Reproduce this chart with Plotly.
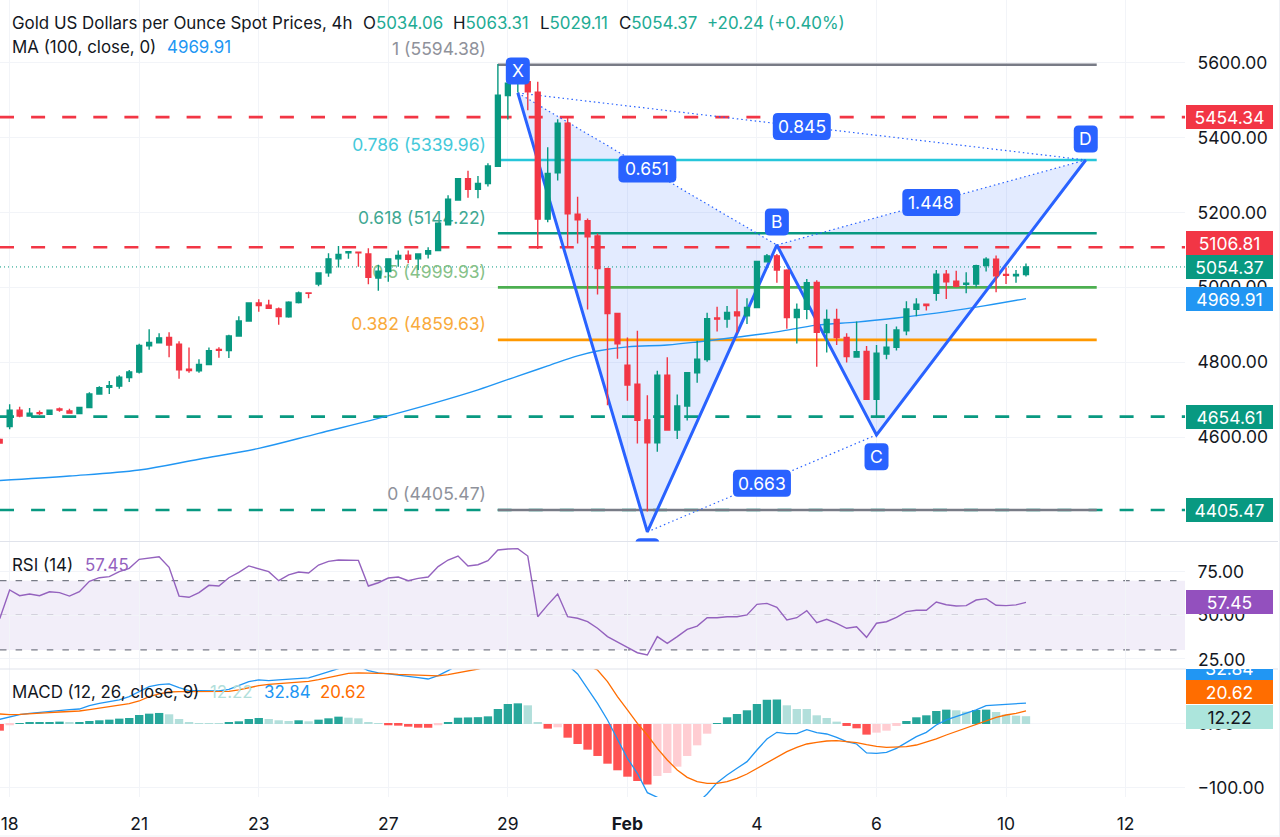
import plotly.graph_objects as go

# bar index, -1 is the cut off candle on the left edge
bar_idx = list(range(-1, 103))

open_px = [4594, 4628, 4672, 4656, 4665, 4661, 4675, 4670, 4663, 4679, 4715, 4733, 4736, 4759, 4774, 4844, 4852, 4866,
           4848, 4781, 4777, 4794, 4834, 4831, 4870, 4910, 4958, 4952, 4942, 4921, 4959, 4985, 5009, 5039, 5076, 5092,
           5094, 5089, 5025, 5042, 5076, 5086, 5076, 5089, 5098, 5167, 5233, 5290, 5262, 5277, 5323, 5512, 5545, 5549,
           5521, 5182, 5306, 5438, 5195, 5178, 5137, 5050, 4930, 4792, 4741, 4646, 4585, 4765, 4619, 4683, 4772, 4807,
           4918, 4915, 4934, 4924, 4946, 5068, 5084, 5046, 4919, 4941, 5013, 4879, 4914, 4866, 4814, 4829, 4701, 4822,
           4840, 4884, 4941, 4955, 4984, 5035, 5016, 5008, 5009, 5058, 5075, 5034, 5031, 5034.06]
high_px = [4596, 4688, 4681, 4678, 4671, 4674, 4679, 4676, 4680, 4720, 4736, 4750, 4765, 4779, 4849, 4888, 4877, 4880,
           4856, 4839, 4808, 4839, 4840, 4873, 4923, 4959, 4968, 4967, 4946, 4963, 4989, 4986, 5039, 5091, 5110, 5097,
           5095, 5104, 5060, 5077, 5098, 5098, 5089, 5107, 5173, 5246, 5292, 5311, 5297, 5331, 5596, 5552, 5575, 5553,
           5549, 5374, 5449, 5456, 5242, 5184, 5144, 5052, 4932, 4866, 4884, 4712, 4777, 4813, 4714, 4774, 4857, 4932,
           4948, 4950, 4995, 4971, 5071, 5089, 5089, 5048, 4957, 5022, 5019, 4941, 4943, 4877, 4909, 4843, 4846, 4902,
           4895, 4963, 4971, 4956, 5046, 5046, 5044, 5040, 5060, 5080, 5085, 5053, 5046, 5063.31]
low_px = [4582, 4621, 4653, 4656, 4659, 4659, 4668, 4663, 4661, 4678, 4713, 4715, 4729, 4747, 4770, 4833, 4850, 4813,
          4756, 4772, 4772, 4793, 4812, 4811, 4868, 4908, 4935, 4942, 4900, 4919, 4957, 4971, 5003, 5028, 5053, 5076,
          5055, 5008, 4991, 5015, 5055, 5064, 5046, 5077, 5096, 5165, 5231, 5239, 5238, 5269, 5322, 5448, 5520, 5473,
          5102, 5174, 5285, 5108, 5117, 4941, 4981, 4685, 4809, 4697, 4583, 4401, 4561, 4617, 4595, 4644, 4745, 4801,
          4882, 4892, 4879, 4902, 4944, 5066, 5012, 4889, 4850, 4915, 4788, 4826, 4846, 4799, 4812, 4701, 4655, 4808,
          4831, 4872, 4923, 4938, 4964, 4969, 5000, 4984, 5000, 5042, 4987, 5009, 5012, 5029.11]
close_px = [4584, 4672, 4656, 4664, 4663, 4672, 4672, 4664, 4679, 4715, 4732, 4737, 4760, 4774, 4845, 4853, 4865, 4846,
            4780, 4778, 4794, 4831, 4832, 4870, 4910, 4958, 4951, 4944, 4922, 4960, 4985, 4984, 5038, 5076, 5088, 5095,
            5092, 5027, 5043, 5076, 5085, 5075, 5089, 5098, 5171, 5235, 5290, 5262, 5277, 5324, 5513, 5545, 5552, 5522,
            5182, 5304, 5438, 5196, 5180, 5135, 5050, 4930, 4849, 4739, 4645, 4585, 4765, 4619, 4683, 4772, 4808, 4916,
            4915, 4933, 4924, 4946, 5069, 5084, 5046, 4919, 4941, 5012, 4880, 4914, 4866, 4815, 4828, 4701, 4824, 4840,
            4886, 4942, 4955, 4951, 5035, 5015, 5003, 5011, 5058, 5075, 5031, 5032, 5034, 5054.37]

# MA 100, read at every few bars
ma_idx = [-1, 6, 13, 19, 25, 31, 37, 42.5, 47, 51, 54, 57, 59, 62, 66, 69, 73, 77, 81, 85, 89, 93, 97, 102]
ma_val = [4484, 4496, 4512, 4541, 4570, 4610, 4650, 4690, 4726, 4763, 4790, 4817, 4830, 4841, 4846, 4854, 4867, 4881,
          4899, 4907, 4918, 4931, 4947, 4969.91]

rsi_val = [48, 64.6, 61.3, 62.3, 61.3, 63.6, 63.1, 61.1, 63.6, 69.6, 71.7, 72.3, 75.2, 77.1, 82.3, 82.9, 83.8, 77.7,
           61.1, 60.4, 63.1, 67.3, 66.9, 71.7, 74.8, 78.5, 76.7, 75.2, 70, 73.3, 75, 74.4, 79, 81.1, 81.9, 81.9, 81.7,
           66.9, 68.8, 71.5, 72.1, 70, 71.3, 72.1, 78.1, 81.9, 84.2, 78.5, 79.2, 81.5, 87.7, 88.3, 88.5, 84.2, 49.2,
           56, 62.3, 49.2, 48.3, 46.3, 42.5, 37.7, 34.8, 31.5, 28.4, 27.1, 37.7, 33.8, 37.7, 41.9, 43.8, 48.6, 48.6,
           49.2, 49.2, 50.2, 56.3, 56.9, 54.6, 47.3, 48.6, 52.7, 45.7, 47.7, 45.4, 42.5, 43.4, 37.3, 45.4, 46.3, 48.8,
           52.1, 52.9, 52.9, 57.7, 56.1, 55.4, 55.6, 58.8, 59.6, 55.8, 55.6, 56, 57.45]

macd_line = [7.3, 11.5, 14.7, 16.7, 18.3, 20.4, 22, 22.5, 23.5, 28.8, 32.4, 35.1, 37.7, 42.9, 50.8, 58.6, 61.7, 62.8,
             57, 52.3, 52.3, 51.8, 51.8, 54.4, 60.2, 66.5, 69.1, 68, 69.1, 70.1, 71.7, 72.2, 76.9, 82.2, 86.9, 94.2,
             91, 83.7, 80.1, 78.5, 76.9, 74.3, 72.7, 70.6, 75.9, 83.7, 92.6, 97.9, 100.5, 105.7, 116.2, 126.6, 131.9,
             131.9, 116.2, 108.3, 103.1, 92.6, 78.5, 56, 32.4, 6.3, -25.1, -53.9, -77.4, -107.8, -115.1, -129.8,
             -136.1, -134, -124.5, -109.9, -92.1, -80.1, -69.6, -59.1, -40.8, -23.5, -13.1, -15.2, -15.2, -8.9, -13.6,
             -15.7, -20.9, -27.7, -31.4, -45.5, -46, -44.5, -38.2, -28.8, -19.9, -13.1, -1.6, 6.3, 11.5, 16.7, 22,
             28.8, 29.8, 30.4, 30.9, 32.84]
macd_signal = [15.7, 14.7, 15.2, 15.7, 16.7, 17.8, 18.8, 19.4, 20.4, 22.5, 24.6, 26.7, 28.8, 31.9, 36.1, 42.9, 47.1,
               50.2, 50.8, 50.8, 50.8, 50.8, 50.8, 51.3, 53.4, 57, 60.2, 62.3, 63.3, 64.4, 65.9, 67, 69.6, 72.7, 76.9,
               79.5, 80.1, 80.1, 79.5, 79, 78, 77.4, 76.4, 75.4, 75.4, 77.4, 80.1, 82.7, 86.3, 90, 97.9, 108.3, 116.2,
               118.8, 118.8, 116.2, 110.9, 105.7, 99.4, 91.1, 84.8, 66.5, 42.9, 22, 1, -17.3, -38.2, -56.5, -72.2,
               -83.7, -90.5, -93.1, -93.1, -90.5, -85.3, -78.5, -69.6, -60.2, -51.3, -43.4, -36.6, -31.4, -28.8, -26.7,
               -26.2, -27.2, -29.3, -32.4, -35.1, -36.6, -36.6, -35.6, -33, -28.8, -23.5, -17.3, -11.5, -5.8, 0, 5.2,
               10.5, 14.1, 16.7, 20.62]
macd_hist = [-10.5, -2, 0.5, 1.6, 2.6, 2.7, 3.7, 1.6, 2.6, 4.7, 5.8, 6.8, 8.4, 9.4, 14.1, 16.2, 17.3, 15.2, 7.8, 3.1,
             1, 0.5, 0.4, 2.1, 4.2, 7.8, 9.4, 7.8, 5.8, 4.7, 5.8, 4.2, 6.8, 8.9, 11.5, 9.9, 8.9, 2.6, 0.5, -2, -2.6,
             -4.2, -5.8, -5.9, -2, 3.1, 9.9, 10.3, 10.7, 12, 23.5, 31.4, 32.4, 29.3, 3.1, -7.3, -5.2, -21.5, -31.4,
             -40.3, -50.2, -62.3, -72.7, -82.7, -89.5, -95, -81.6, -76.9, -67, -50.2, -33.5, -15.2, 0.5, 10.5, 15.7,
             21.5, 31.4, 38, 38.4, 29.3, 23.5, 23.5, 13.6, 9.4, 3.7, -3.1, -6.8, -16.7, -13.6, -10.5, -3.1, 4.7, 10.5,
             13.6, 20.4, 22.5, 21.5, 19.4, 22, 22.5, 18.8, 14.7, 13.1, 12.22]

# fibonacci retracement
fib_names = ['1', '0.786', '0.618', '0.5', '0.382', '0']
fib_levels = [5594.38, 5339.96, 5144.22, 4999.93, 4859.63, 4405.47]
fib_colors = ['#787B86', '#26C6DA', '#089981', '#4CAF50', '#FF9800', '#787B86']
fib_text_colors = ['#8f929b', '#45c9da', '#3fa893', '#86c188', '#f9aa3c', '#8f929b']

# harmonic pattern points X A B C D
pat_idx = [51, 64, 77, 87, 108]
pat_val = [5519, 4347, 5113, 4606, 5340]
pat_ratios = ['0.651', '0.845', '0.663', '1.448']

red_levels = [5454.34, 5106.81]
green_levels = [4654.61, 4405.47]
last_price = 5054.37

tick_idx = [0, 13, 25, 38, 50, 62, 75, 87, 100, 112]
tick_text = ['18', '21', '23', '27', '29', '<b>Feb</b>', '4', '6', '10', '12']

UP = '#089981'
UP_TEXT = '#22AB94'
DOWN = '#F23645'
BLUE = '#2962FF'
INK = '#131722'
FONT = 'Inter'
GRID = '#F2F4F8'
SEP = '#E0E3EB'
LEGEND_SIZE = 16.9
SCALE_SIZE = 17.5

W, H = 1280, 837
PLOT_W, PLOT_H = 1185, 797  # plot area in pixels, the rest is price scale and date scale
PANE1, PANE2 = 541.5, 669


def fx(px):
    return px / PLOT_W


def fy(py):
    return 1 - py / PLOT_H


x_range = [-0.97, 117.96]
price_range = [4321.2, 5767.2]
rsi_range = [19.0, 92.6]
macd_range = [-114.6, 86.3]

fig = go.Figure()

# everything below the candles goes on the base axes, candles on an overlaid one
fig.add_trace(go.Scatter(x=[pat_idx[0], pat_idx[1], pat_idx[2], pat_idx[0]],
                         y=[pat_val[0], pat_val[1], pat_val[2], pat_val[0]], fill='toself', mode='none',
                         fillcolor='rgba(41,98,255,0.13)'))
fig.add_trace(go.Scatter(x=[pat_idx[2], pat_idx[3], pat_idx[4], pat_idx[2]],
                         y=[pat_val[2], pat_val[3], pat_val[4], pat_val[2]], fill='toself', mode='none',
                         fillcolor='rgba(41,98,255,0.13)'))

for lvl in red_levels:
    fig.add_trace(go.Scatter(x=x_range, y=[lvl, lvl], mode='lines',
                             line=dict(color=DOWN, width=2.6, dash='14px,17.1px')))
for lvl in green_levels:
    fig.add_trace(go.Scatter(x=x_range, y=[lvl, lvl], mode='lines',
                             line=dict(color=UP, width=2.6, dash='14px,17.1px')))
fig.add_trace(go.Scatter(x=x_range, y=[last_price, last_price], mode='lines',
                         line=dict(color=UP, width=1, dash='1px,3px')))

for lvl, col in zip(fib_levels, fib_colors):
    fig.add_trace(go.Scatter(x=[49, 109.1], y=[lvl, lvl], mode='lines', line=dict(color=col, width=2.6)))

fig.add_trace(go.Scatter(x=[47.8] * len(fib_levels), y=[v + 37 for v in fib_levels], mode='text',
                         text=[f'{n} ({v:.2f})' for n, v in zip(fib_names, fib_levels)],
                         textposition='middle left',
                         textfont=dict(family=FONT, size=SCALE_SIZE, color=fib_text_colors)))

fig.add_trace(go.Scatter(x=ma_idx, y=ma_val, mode='lines', line=dict(color='#2196F3', width=1.4, shape='spline')))

# dotted legs
for a, b in [(0, 2), (0, 4), (1, 3), (2, 4)]:
    fig.add_trace(go.Scatter(x=[pat_idx[a], pat_idx[b]], y=[pat_val[a], pat_val[b]], mode='lines',
                             line=dict(color=BLUE, width=1.2, dash='1.5px,3px')))
fig.add_trace(go.Scatter(x=pat_idx, y=pat_val, mode='lines', line=dict(color=BLUE, width=3)))

fig.add_trace(go.Candlestick(x=bar_idx, open=open_px, high=high_px, low=low_px, close=close_px, yaxis='y4',
                             whiskerwidth=0,
                             increasing=dict(line=dict(color=UP, width=1.4), fillcolor=UP),
                             decreasing=dict(line=dict(color=DOWN, width=1.4), fillcolor=DOWN)))

# RSI
fig.add_trace(go.Scatter(x=bar_idx, y=rsi_val, yaxis='y2', mode='lines', line=dict(color='#9462BE', width=1.4)))

# MACD histogram colour depends on direction of the bar
hist_colors = []
prev = 0
for v in macd_hist:
    if v >= 0:
        hist_colors.append('#26A69A' if v > prev else '#B2DFDB')
    else:
        hist_colors.append('#FF5252' if v < prev else '#FFCDD2')
    prev = v
fig.add_trace(go.Bar(x=bar_idx, y=macd_hist, yaxis='y3', marker=dict(color=hist_colors, line=dict(width=0))))
fig.add_trace(go.Scatter(x=bar_idx, y=macd_line, yaxis='y3', mode='lines', line=dict(color='#2196F3', width=1.3)))
fig.add_trace(go.Scatter(x=bar_idx, y=macd_signal, yaxis='y3', mode='lines', line=dict(color='#FF6D00', width=1.3)))

shapes = []
# rsi band and its dashed limits
shapes.append(dict(type='rect', xref='paper', x0=0, x1=1, yref='y2', y0=30, y1=70, layer='below', line_width=0,
                   fillcolor='rgba(126,87,194,0.1)'))
for v in [70, 50, 30]:
    shapes.append(dict(type='line', xref='paper', x0=0, x1=1, yref='y2', y0=v, y1=v, layer='between',
                       line=dict(color='#787B86', width=1.2, dash='6.5px,9.1px')))
# pane separators and the thin page border
for py in [PANE1, PANE2]:
    shapes.append(dict(type='line', xref='paper', x0=0, x1=fx(1278), yref='paper', y0=fy(py), y1=fy(py),
                       line=dict(color=SEP, width=1)))
shapes.append(dict(type='line', xref='paper', x0=fx(1279.5), x1=fx(1279.5), yref='paper', y0=fy(0), y1=fy(837),
                   line=dict(color='#EEF0F4', width=1)))
shapes.append(dict(type='line', xref='paper', x0=0, x1=fx(1280), yref='paper', y0=fy(836), y1=fy(836),
                   line=dict(color='#EEF0F4', width=1)))


def round_badge(idx, val, w, h, up=0, r=5):
    # rounded rectangle sized in pixels around a data point
    x0, x1 = -w / 2, w / 2
    y0, y1 = up - h / 2, up + h / 2
    path = (f'M {x0 + r} {y0} L {x1 - r} {y0} Q {x1} {y0} {x1} {y0 + r} L {x1} {y1 - r} Q {x1} {y1} {x1 - r} {y1} '
            f'L {x0 + r} {y1} Q {x0} {y1} {x0} {y1 - r} L {x0} {y0 + r} Q {x0} {y0} {x0 + r} {y0} Z')
    return dict(type='path', xref='x', yref='y', xsizemode='pixel', ysizemode='pixel', xanchor=idx, yanchor=val,
                path=path, fillcolor=BLUE, line_width=0, layer='above')


annots = []


def badge_text(idx, val, label, up=0):
    annots.append(dict(x=idx, y=val, xref='x', yref='y', text=label, showarrow=False, yshift=up,
                       font=dict(family=FONT, size=SCALE_SIZE, color='white')))


# point badges
for k, label, up in [(0, 'X', 22), (2, 'B', 23), (3, 'C', -22), (4, 'D', 21)]:
    shapes.append(round_badge(pat_idx[k], pat_val[k], 24, 27, up))
    badge_text(pat_idx[k], pat_val[k], label, up)
shapes.append(round_badge(pat_idx[1], pat_val[1], 24, 27, -20))  # A, only its top edge shows above the rsi pane

# ratio badges sit halfway along the dotted legs
for (a, b), label in zip([(0, 2), (0, 4), (1, 3), (2, 4)], pat_ratios):
    mx = (pat_idx[a] + pat_idx[b]) / 2
    my = (pat_val[a] + pat_val[b]) / 2
    shapes.append(round_badge(mx, my, 58, 27))
    badge_text(mx, my, label)


def text_at(px, py, label, color=INK, size=LEGEND_SIZE):
    annots.append(dict(x=fx(px), y=fy(py), xref='paper', yref='paper', xanchor='left', yanchor='middle',
                       text=label, showarrow=False, borderpad=0, borderwidth=0,
                       font=dict(family=FONT, size=size, color=color)))


text_at(12, 23, 'Gold US Dollars per Ounce Spot Prices, 4h')
text_at(363, 23, f'O<span style="color:{UP_TEXT}">5034.06</span>')
text_at(453, 23, f'H<span style="color:{UP_TEXT}">5063.31</span>')
text_at(540, 23, f'L<span style="color:{UP_TEXT}">5029.11</span>')
text_at(619, 23, f'C<span style="color:{UP_TEXT}">5054.37</span>')
text_at(707, 23, f'<span style="color:{UP_TEXT}">+20.24</span>')
text_at(768, 23, f'<span style="color:{UP_TEXT}">(+0.40%)</span>')
text_at(12, 47, 'MA (100, close, 0)')
text_at(167, 47, '4969.91', '#2196F3')
text_at(12, 565, 'RSI (14)')
text_at(85, 565, '57.45', '#9462BE')
text_at(12, 692, 'MACD (12, 26, close, 9)')
text_at(210, 692, '12.22', '#B2DFDB')
text_at(264, 692, '32.84', '#2196F3')
text_at(320, 692, '20.62', '#FF6D00')


def scale_badge(py, label, bg, fg='white', h=24):
    annots.append(dict(x=fx(1186), y=fy(py), xref='paper', yref='paper', xanchor='left', yanchor='middle',
                       text=label, showarrow=False, width=87, height=h, align='center', bgcolor=bg,
                       borderpad=0, borderwidth=0, font=dict(family=FONT, size=SCALE_SIZE, color=fg)))


# scale badges, pushed apart from each other like the platform does
scale_badge(117, '5454.34', DOWN)
scale_badge(243, '5106.81', DOWN)
scale_badge(267, '5054.37', UP)
scale_badge(299, '4969.91', '#2196F3')
scale_badge(416.7, '4654.61', UP)
scale_badge(510.3, '4405.47', UP)
scale_badge(602.4, '57.45', '#9350BE')
scale_badge(668, '32.84', '#2196F3')
scale_badge(692.3, '20.62', '#FF6D00')
scale_badge(716.7, '12.22', '#ACE5DC', INK)
# top half of the 32.84 badge falls outside its pane, cover it and put the rsi label back
scale_badge(658, '', 'white', h=21)
text_at(1198, 659, '25.00', size=SCALE_SIZE)

tick_font = dict(family=FONT, size=SCALE_SIZE, color=INK)
fig.update_layout(
    width=W, height=H, margin=dict(l=0, r=W - PLOT_W, t=0, b=H - PLOT_H),
    paper_bgcolor='white', plot_bgcolor='white', showlegend=False, hovermode=False,
    bargap=0.16, shapes=shapes, annotations=annots,
    xaxis=dict(range=x_range, domain=[0, 1], anchor='y3', tickmode='array', tickvals=tick_idx, ticktext=tick_text,
               tickfont=tick_font, showgrid=True, gridcolor=GRID, gridwidth=1, zeroline=False, showline=False,
               ticks='outside', ticklen=11, tickcolor='rgba(0,0,0,0)', rangeslider=dict(visible=False)),
    yaxis=dict(domain=[fy(PANE1), 1], range=price_range, anchor='x', side='right',
               tickmode='array', tickvals=[4600, 4800, 5000, 5200, 5400, 5600], tickformat='.2f', tickfont=tick_font,
               gridcolor=GRID, zeroline=False, showline=False, ticks='outside', ticklen=8,
               tickcolor='rgba(0,0,0,0)'),
    yaxis2=dict(domain=[fy(PANE2), fy(PANE1)], range=rsi_range, anchor='x', side='right',
                tickmode='array', tickvals=[25, 50, 75], tickformat='.2f', tickfont=tick_font,
                gridcolor=GRID, zeroline=False, showline=False, ticks='outside', ticklen=8,
                tickcolor='rgba(0,0,0,0)'),
    yaxis3=dict(domain=[0, fy(PANE2)], range=macd_range, anchor='x', side='right',
                tickmode='array', tickvals=[-100, 0], tickformat='.2f', tickfont=tick_font,
                gridcolor=GRID, zeroline=False, showline=False, ticks='outside', ticklen=8,
                tickcolor='rgba(0,0,0,0)'),
    yaxis4=dict(domain=[fy(PANE1), 1], range=price_range, anchor='x', overlaying='y', side='right', visible=False),
)

fig.write_html('out.html', config=dict(displayModeBar=False),
               post_script="document.body.style.margin='0';")
